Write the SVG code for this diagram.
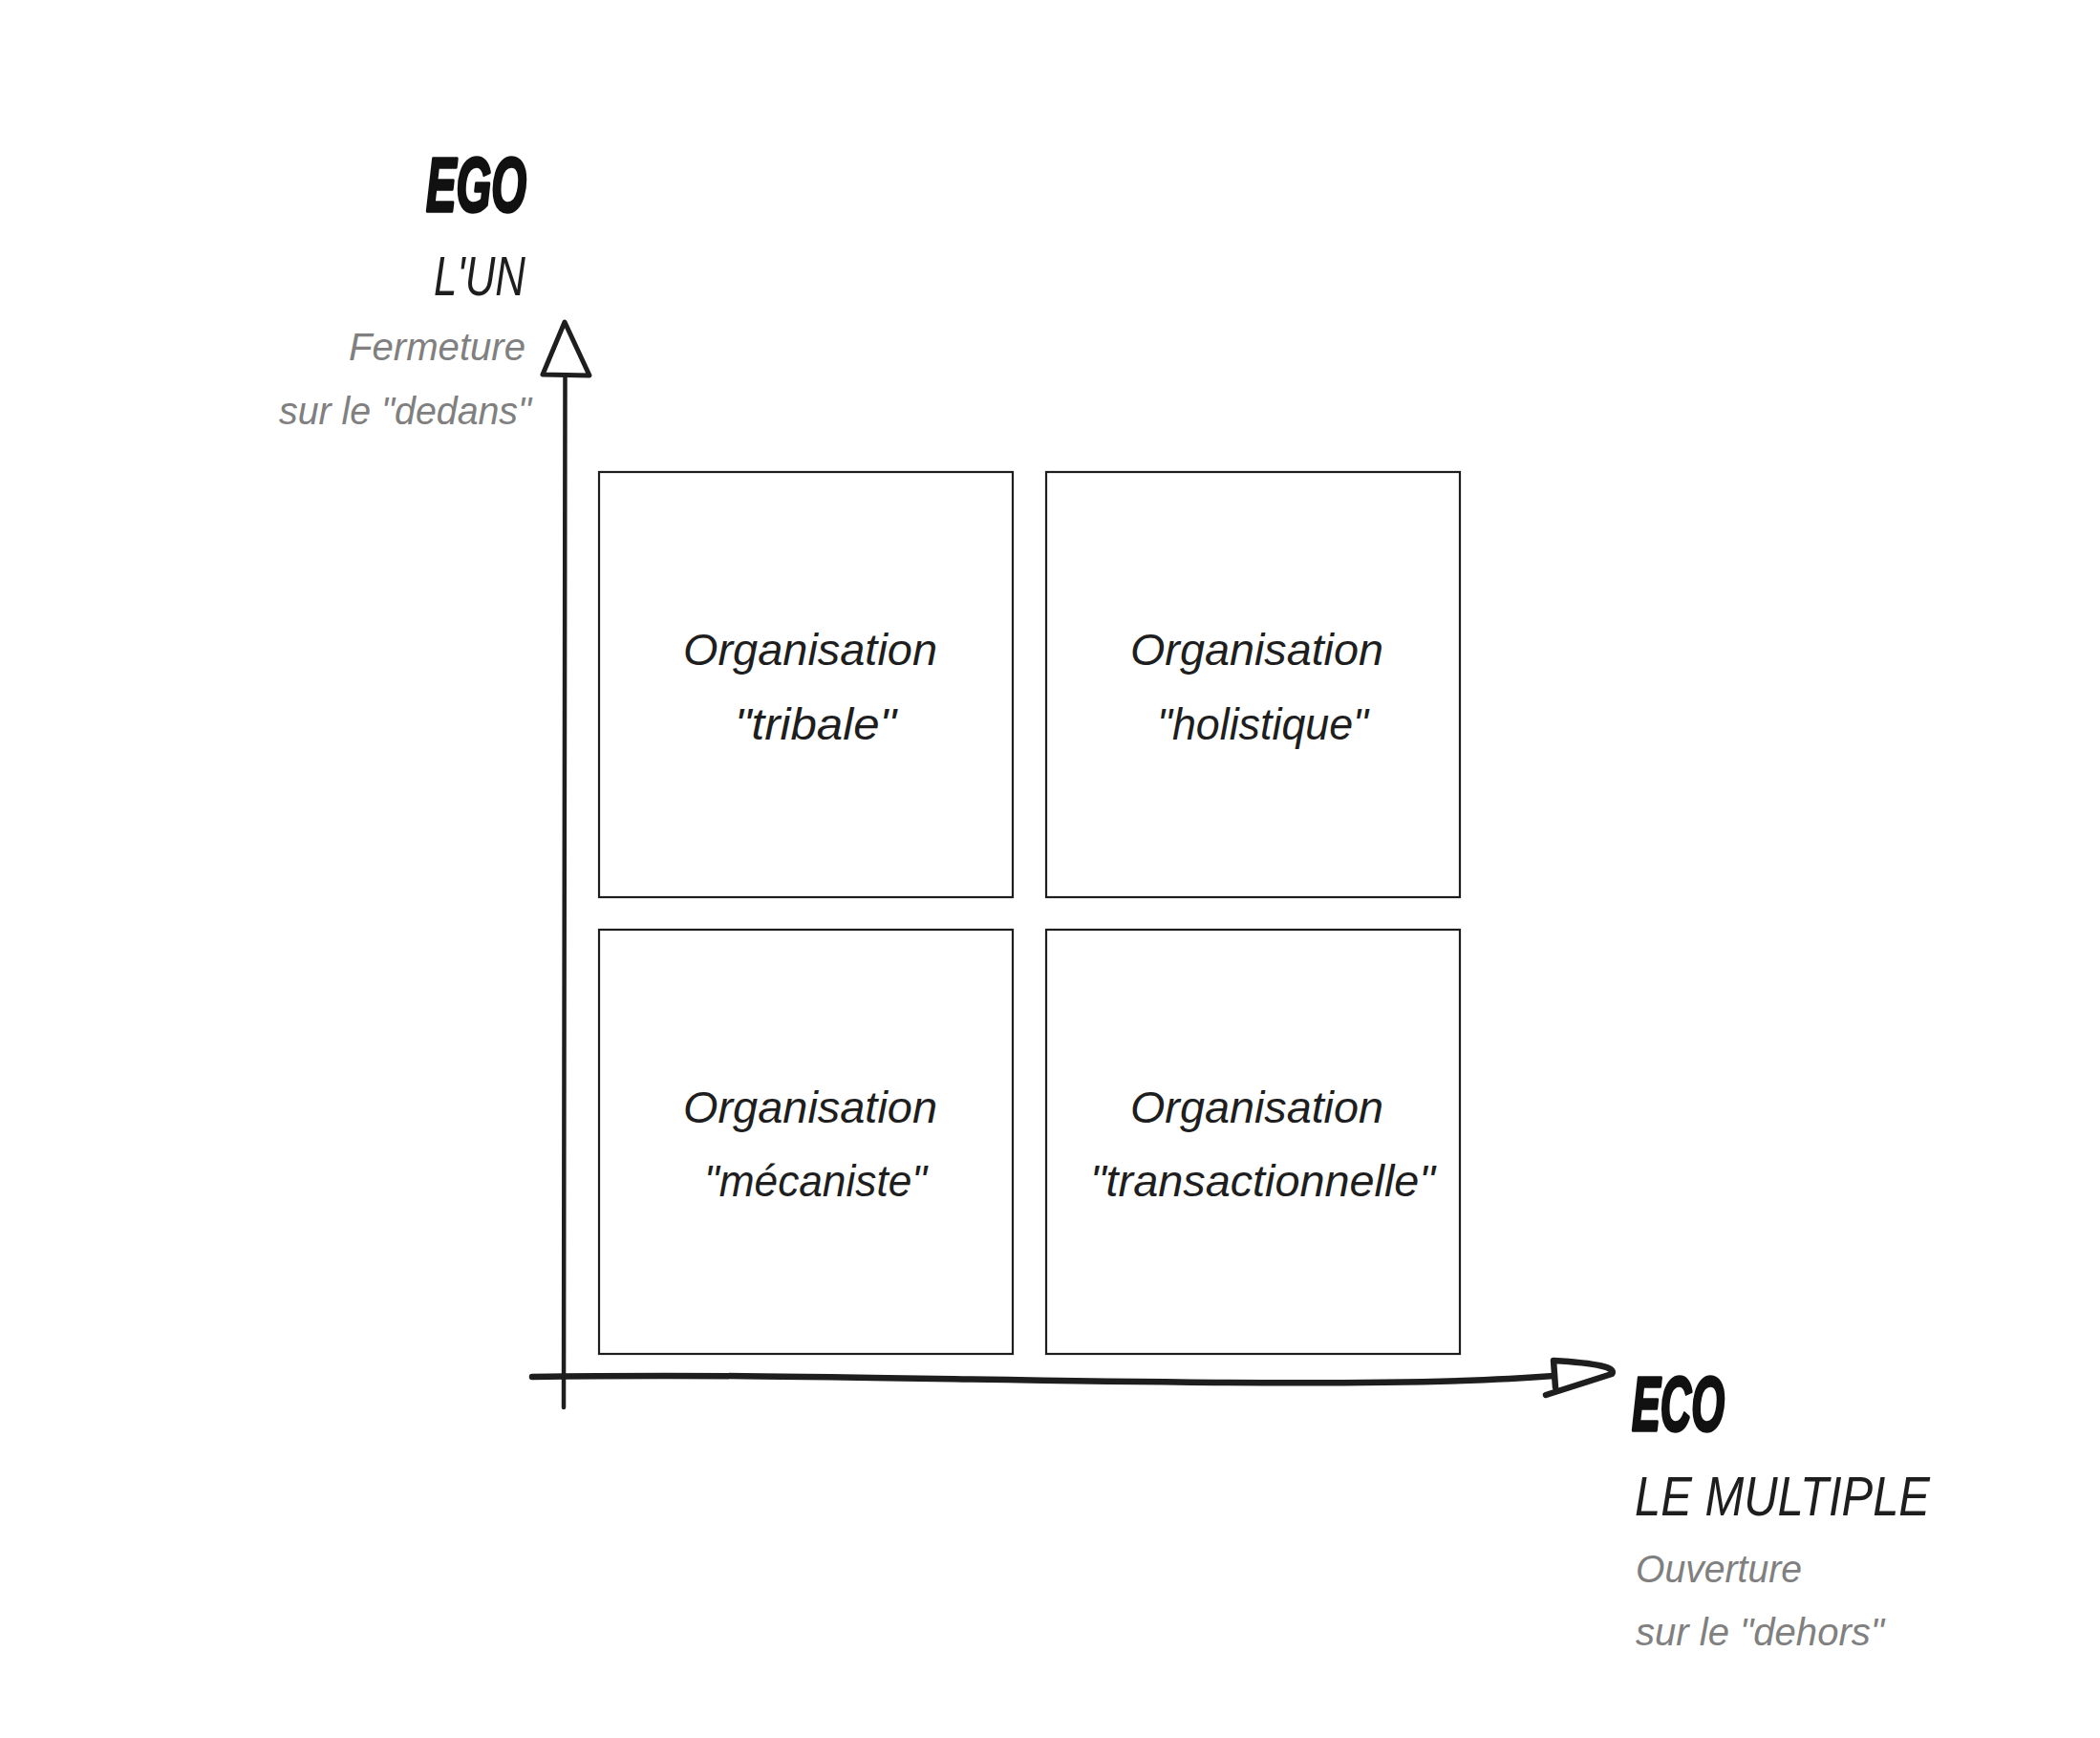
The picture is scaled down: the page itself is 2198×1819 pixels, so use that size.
<svg xmlns="http://www.w3.org/2000/svg" width="2198" height="1819" viewBox="0 0 2198 1819">
<style>
.box{fill:#ffffff;stroke:#1e1e1e;stroke-width:2.2}
.t{font-family:"Liberation Sans",Arial,sans-serif;font-style:italic;fill:#1e1e1e;font-size:46px}
.big{font-family:"Liberation Sans",Arial,sans-serif;font-style:italic;font-weight:bold;fill:#111111;stroke:#111111;stroke-width:3.5;stroke-linejoin:round;font-size:80px}
.mid{font-family:"Liberation Sans",Arial,sans-serif;font-style:italic;fill:#1e1e1e;font-size:58px}
.sub{font-family:"Liberation Sans",Arial,sans-serif;font-style:italic;fill:#808080;font-size:40px}
.ax{fill:none;stroke:#1e1e1e;stroke-linecap:round;stroke-linejoin:round}
</style>
<rect width="2198" height="1819" fill="#ffffff"/>
<g id="connectors">
<path class="ax" stroke-width="4.5" d="M591.5,393 C591,700 590.5,1100 590,1473"/>
<path class="ax" stroke-width="5" d="M591,337 L568,392 L617,393 Z"/>
<path class="ax" stroke-width="6.5" d="M557,1441 C800,1437 1000,1445 1285,1447 C1420,1448 1540,1447 1626,1440"/>
<path class="ax" stroke-width="6.5" d="M1626,1424 L1628,1452 M1626,1424 Q1695,1428 1687,1438 L1618,1460"/>
</g>
<g id="node-tribale">
<rect class="box" x="627" y="494" width="433" height="445"/>
<text class="t" x="715" y="696" textLength="266" lengthAdjust="spacingAndGlyphs">Organisation</text>
<text class="t" x="769" y="774" textLength="169" lengthAdjust="spacingAndGlyphs">"tribale"</text>
</g>
<g id="node-holistique">
<rect class="box" x="1095" y="494" width="433" height="445"/>
<text class="t" x="1183" y="696" textLength="265" lengthAdjust="spacingAndGlyphs">Organisation</text>
<text class="t" x="1211" y="774" textLength="221" lengthAdjust="spacingAndGlyphs">"holistique"</text>
</g>
<g id="node-mecaniste">
<rect class="box" x="627" y="973" width="433" height="444"/>
<text class="t" x="715" y="1175" textLength="266" lengthAdjust="spacingAndGlyphs">Organisation</text>
<text class="t" x="737" y="1252" textLength="233" lengthAdjust="spacingAndGlyphs">"mécaniste"</text>
</g>
<g id="node-transactionnelle">
<rect class="box" x="1095" y="973" width="433" height="444"/>
<text class="t" x="1183" y="1175" textLength="265" lengthAdjust="spacingAndGlyphs">Organisation</text>
<text class="t" x="1141" y="1252" textLength="361" lengthAdjust="spacingAndGlyphs">"transactionnelle"</text>
</g>
<g id="label-ego">
<text class="big" x="446" y="221" textLength="105" lengthAdjust="spacingAndGlyphs">EGO</text>
<text class="mid" x="454" y="309" textLength="96" lengthAdjust="spacingAndGlyphs">L'UN</text>
<text class="sub" x="365" y="377" textLength="185" lengthAdjust="spacingAndGlyphs">Fermeture</text>
<text class="sub" x="292" y="444" textLength="264" lengthAdjust="spacingAndGlyphs">sur le "dedans"</text>
</g>
<g id="label-eco">
<text class="big" x="1708" y="1497" textLength="97" lengthAdjust="spacingAndGlyphs">ECO</text>
<text class="mid" x="1711" y="1586" textLength="309" lengthAdjust="spacingAndGlyphs">LE MULTIPLE</text>
<text class="sub" x="1712" y="1656" textLength="174" lengthAdjust="spacingAndGlyphs">Ouverture</text>
<text class="sub" x="1712" y="1722" textLength="260" lengthAdjust="spacingAndGlyphs">sur le "dehors"</text>
</g>
</svg>
